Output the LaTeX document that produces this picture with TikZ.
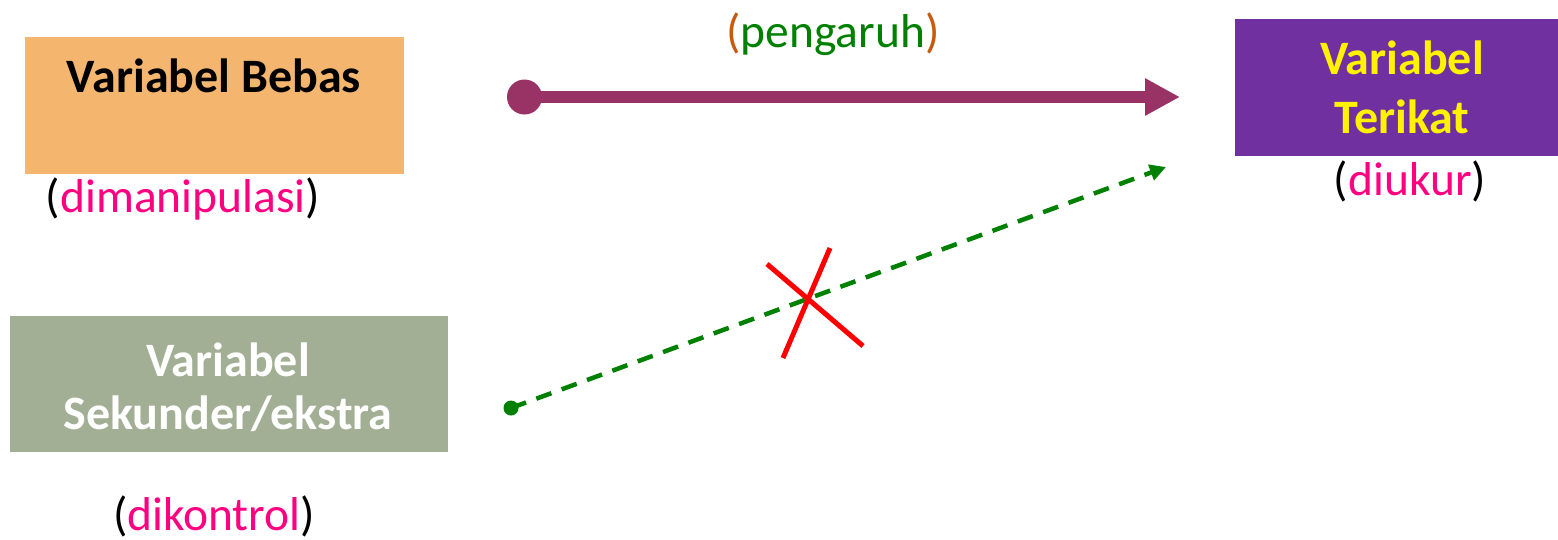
\documentclass[tikz,border=0pt]{standalone}
\usepackage{fontspec}
\setmainfont{Carlito}
\usetikzlibrary{arrows.meta}
\definecolor{boxorange}{HTML}{F4B56F}
\definecolor{boxpurple}{HTML}{7030A0}
\definecolor{boxgray}{HTML}{A2AF94}
\definecolor{pinktxt}{HTML}{FF0080}
\definecolor{plum}{HTML}{993366}
\definecolor{parbrown}{HTML}{C55A11}
\definecolor{darkgreen}{HTML}{008000}
\tikzset{
  box/.style={rectangle, inner sep=0pt, outer sep=0pt},
  big/.style={font=\fontsize{47.5}{57}\selectfont, inner sep=0pt},
  bigb/.style={font=\fontsize{48}{57}\selectfont\bfseries, inner sep=0pt, align=center},
  mainarrow/.style={draw=plum, line width=12pt, -{Triangle[length=35pt,width=35pt]}},
  sidearrow/.style={draw=darkgreen, line width=4.5pt, dash pattern=on 16pt off 11pt, -{Triangle[length=16pt,width=16pt]}},
  cross/.style={draw=red, line width=5pt},
}
\begin{document}
\begin{tikzpicture}[x=1pt,y=-1pt]
\useasboundingbox (0,0) rectangle (1558,539);
% boxes
\node[box, fill=boxorange, minimum width=379pt, minimum height=137pt] (bebas) at (214.5,105.5) {};
\node[box, fill=boxpurple, minimum width=323pt, minimum height=137pt] (terikat) at (1396.5,87.5) {};
\node[box, fill=boxgray, minimum width=438pt, minimum height=136pt] (sekunder) at (229,384) {};
% box texts
\node[bigb, anchor=base] (bebasT) at (214,92) {Variabel Bebas};
\node[bigb, text=yellow, anchor=center] (terikatT) at (1402,87) {Variabel\\[2pt]Terikat};
\node[bigb, text=white, anchor=center] (sekunderT) at (228,387) {Variabel\\[-4pt]Sekunder/ekstra};
% labels
\node[big, anchor=base] (manip) at (183,212) {(\textcolor{pinktxt}{dimanipulasi})};
\node[big, anchor=base] (ukur) at (1410,195) {(\textcolor{pinktxt}{diukur})};
\node[big, anchor=base] (kontrol) at (214,530) {(\textcolor{pinktxt}{dikontrol})};
\node[big, anchor=base, text=parbrown] (pengaruh) at (833,47) {(\textcolor{darkgreen}{pengaruh})};
% main arrow
\node[circle, fill=plum, inner sep=0pt, minimum size=35pt] (dotA) at (524.5,97) {};
\coordinate (tipA) at (1180,97);
\draw[mainarrow] (dotA.center) -- (tipA);
% secondary arrow
\node[circle, fill=darkgreen, inner sep=0pt, minimum size=15pt] (dotB) at (511,408) {};
\coordinate (tipB) at (1166,167);
\draw[sidearrow] (dotB.center) -- (tipB);
% cross
\coordinate (x1a) at (767,264);
\coordinate (x1b) at (863,346);
\coordinate (x2a) at (830,248);
\coordinate (x2b) at (783,358);
\draw[cross] (x1a) -- (x1b);
\draw[cross] (x2a) -- (x2b);
\end{tikzpicture}
\end{document}
